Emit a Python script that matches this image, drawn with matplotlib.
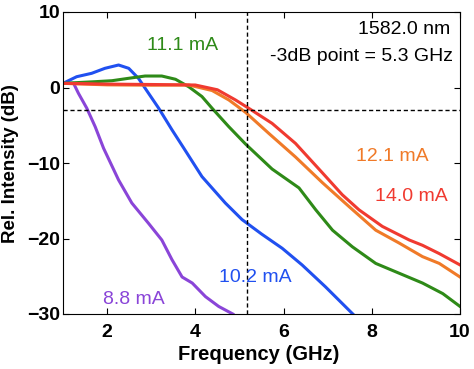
import matplotlib.pyplot as plt

plt.rcParams['font.family'] = ['Liberation Sans', 'DejaVu Sans']

# 8.8 mA
f_88 = [1.0, 1.24, 1.35, 1.54, 1.73, 1.92, 2.26, 2.56, 2.94, 3.24, 3.47, 3.70, 3.93, 4.23, 4.53, 4.85]
p_88 = [0.55, 0.55, -0.77, -2.75, -5.2, -8.05, -12.25, -15.3, -18.0, -20.2, -22.8, -25.1, -25.9, -27.7, -29.0, -30.0]

# 10.2 mA
f_102 = [1.0, 1.31, 1.65, 1.95, 2.26, 2.49, 2.71, 2.94, 3.17, 3.47, 3.74, 4.15, 4.68, 5.06, 5.5, 5.97, 6.42, 6.95, 7.57]
p_102 = [0.55, 1.43, 1.88, 2.54, 2.98, 2.54, 1.22, -0.77, -2.75, -5.6, -8.05, -11.8, -15.3, -17.5, -19.4, -21.3, -23.5, -26.4, -30.0]

# 11.1 mA
f_111 = [1.0, 1.73, 2.11, 2.49, 2.86, 3.24, 3.55, 3.85, 4.15, 4.38, 4.76, 5.14, 5.74, 6.35, 6.73, 7.11,
         7.56, 8.09, 8.62, 9.15, 9.61, 10.0]
p_111 = [0.55, 0.77, 0.9, 1.22, 1.52, 1.52, 1.09, 0.1, -1.2, -2.75, -5.2, -7.5, -10.8, -13.3, -16.2, -18.9,
         -21.1, -23.3, -24.6, -25.9, -27.3, -29.0]

# 12.1 mA
f_121 = [1.0, 2.0, 3.0, 3.85, 4.38, 4.76, 5.14, 5.67, 6.27, 6.88, 7.49, 8.09, 8.62, 9.15, 9.53, 10.0]
p_121 = [0.55, 0.35, 0.3, 0.33, -0.4, -1.65, -3.3, -6.1, -9.2, -12.6, -15.8, -18.9, -20.6, -22.4, -23.3, -25.1]

# 14.0 mA
f_140 = [1.0, 2.0, 3.0, 4.0, 4.5, 4.91, 5.21, 5.74, 6.27, 6.88, 7.33, 7.71, 8.24, 8.85, 9.15, 9.53, 10.0]
p_140 = [0.55, 0.45, 0.4, 0.33, -0.3, -1.65, -2.75, -4.75, -7.4, -11.3, -14.2, -16.2, -18.4, -20.2, -20.9, -22.0, -23.5]

curves = [
    (f_88, p_88, '#8a45d8', '8.8 mA', 2.6, -28.1),
    (f_102, p_102, '#2050f0', '10.2 mA', 5.37, -25.2),
    (f_111, p_111, '#2e8a18', '11.1 mA', 3.7, 5.6),
    (f_121, p_121, '#f07a28', '12.1 mA', 8.47, -9.2),
    (f_140, p_140, '#f03a30', '14.0 mA', 8.89, -14.5),
]

fig = plt.figure(figsize=(4.74, 3.69), dpi=100)
ax = fig.add_axes([63 / 474, 1 - 314 / 369, (460 - 63) / 474, (314 - 12) / 369])

for f, p, c, lab, tx, ty in curves:
    ax.plot(f, p, color=c, lw=2.2, solid_joinstyle='round')
    ax.text(tx, ty, lab, color=c, fontsize=14, ha='center', va='center')

ax.axhline(-3, color='black', ls='--', lw=1.0, dashes=(3, 2))
ax.axvline(5.18, color='black', ls='--', lw=1.0, dashes=(3, 2))

ax.text(9.77, 7.7, '1582.0 nm', fontsize=14, ha='right', va='center')
ax.text(9.83, 4.1, '-3dB point = 5.3 GHz', fontsize=14, ha='right', va='center')

ax.set_xlim(1, 10)
ax.set_ylim(-30, 10)
ax.set_xticks([2, 4, 6, 8, 10])
ax.set_yticks([-30, -20, -10, 0, 10])
ax.tick_params(direction='in', top=True, right=True, length=4, width=0.8, labelsize=14)
ax.tick_params(axis='x', pad=7)
ax.tick_params(axis='y', pad=2)
for lbl in ax.get_xticklabels() + ax.get_yticklabels():
    lbl.set_fontweight('bold')

fig.text(258.5 / 474, 1 - 360.5 / 369, 'Frequency (GHz)', fontsize=14.5, fontweight='bold',
         ha='center', va='baseline')
fig.text(11 / 474, 1 - 164 / 369, 'Rel. Intensity (dB)', fontsize=13.5, fontweight='bold',
         ha='center', va='center', rotation=90)

fig.savefig('out.png', dpi=100)
